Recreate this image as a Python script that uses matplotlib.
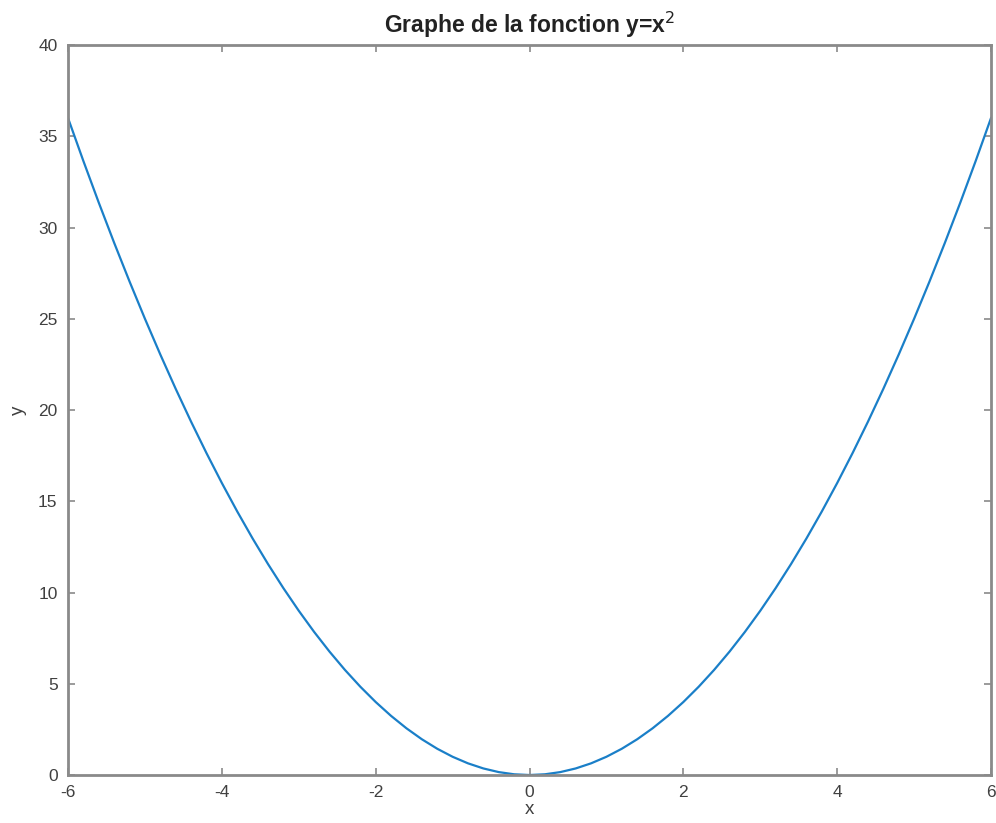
import matplotlib
matplotlib.use('Agg')
import matplotlib.pyplot as plt

plt.rcParams['font.family'] = ['Liberation Sans', 'DejaVu Sans']
plt.rcParams['axes.unicode_minus'] = False

# points, x from -6 to 6 every 0.2
x_vals = [-6.0, -5.8, -5.6, -5.4, -5.2, -5.0, -4.8, -4.6, -4.4, -4.2,
          -4.0, -3.8, -3.6, -3.4, -3.2, -3.0, -2.8, -2.6, -2.4, -2.2,
          -2.0, -1.8, -1.6, -1.4, -1.2, -1.0, -0.8, -0.6, -0.4, -0.2,
          0.0, 0.2, 0.4, 0.6, 0.8, 1.0, 1.2, 1.4, 1.6, 1.8,
          2.0, 2.2, 2.4, 2.6, 2.8, 3.0, 3.2, 3.4, 3.6, 3.8,
          4.0, 4.2, 4.4, 4.6, 4.8, 5.0, 5.2, 5.4, 5.6, 5.8, 6.0]
y_vals = [36.0, 33.64, 31.36, 29.16, 27.04, 25.0, 23.04, 21.16, 19.36, 17.64,
          16.0, 14.44, 12.96, 11.56, 10.24, 9.0, 7.84, 6.76, 5.76, 4.84,
          4.0, 3.24, 2.56, 1.96, 1.44, 1.0, 0.64, 0.36, 0.16, 0.04,
          0.0, 0.04, 0.16, 0.36, 0.64, 1.0, 1.44, 1.96, 2.56, 3.24,
          4.0, 4.84, 5.76, 6.76, 7.84, 9.0, 10.24, 11.56, 12.96, 14.44,
          16.0, 17.64, 19.36, 21.16, 23.04, 25.0, 27.04, 29.16, 31.36, 33.64, 36.0]

x_ticks = [-6, -4, -2, 0, 2, 4, 6]
y_ticks = [0, 5, 10, 15, 20, 25, 30, 35, 40]

fig = plt.figure(figsize=(9.96, 8.23), dpi=100)
ax = fig.add_axes([0.0683, 0.0583, 0.9267, 0.887])

ax.plot(x_vals, y_vals, color='#1a7fc8', linewidth=1.6)

ax.set_xlim(-6, 6)
ax.set_ylim(0, 40)
ax.set_xticks(x_ticks)
ax.set_yticks(y_ticks)

ax_color = '#8a8a8a'
for s in ax.spines.values():
    s.set_color(ax_color)
    s.set_linewidth(2)
ax.tick_params(direction='in', length=5, width=1.2, color=ax_color,
               labelsize=12.5, labelcolor='#404040', top=True, right=True)
ax.tick_params(axis='y', pad=7.5)
ax.tick_params(axis='x', pad=7)

ax.set_xlabel('x', fontsize=13.5, color='#404040', labelpad=1)
ax.set_ylabel('y', fontsize=13.5, color='#404040', labelpad=8)
ax.set_title('Graphe de la fonction y=x$^2$', fontsize=16.5, fontweight='bold',
             color='#222222', pad=9)

fig.savefig('out.png', dpi=100)
